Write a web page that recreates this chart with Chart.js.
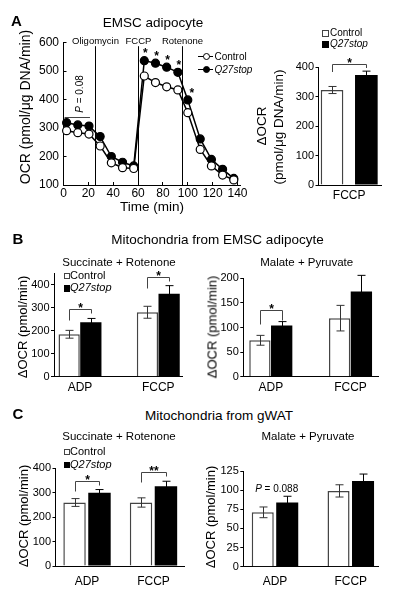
<!DOCTYPE html>
<html><head><meta charset="utf-8">
<script src="https://cdn.jsdelivr.net/npm/chart.js@4/dist/chart.umd.min.js"></script>
<style>
html,body{margin:0;padding:0;background:#fff;}
#root{position:relative;width:397px;height:594px;overflow:hidden;font-family:"Liberation Sans",Arial,Helvetica,sans-serif;color:#000;}
canvas{position:absolute;}
.t{position:absolute;white-space:nowrap;line-height:1;}
</style></head><body><div id="root"></div>
<script>
// ================= DATA =================
// Panel A – Seahorse time course (EMSC adipocyte)
const timeMin     = [2.5, 11.5, 20.5, 29.5, 38.5, 47.5, 56.5, 65, 74, 83, 92, 100, 110, 119, 128, 137];
const ocrControl  = [291, 284, 279, 237, 178, 161, 158, 483, 460, 445, 434, 354, 225, 167, 135, 118];
const ocrQ27stop  = [319, 311, 307, 270, 200, 180, 167, 537, 528, 514, 496, 399, 262, 190, 155, 123];
const ocrSig      = ['', '', '', '', '', '', '', '*', '*', '*', '*', '*', '', '', '', ''];
const injectionNames = ['Oligomycin', 'FCCP', 'Rotenone'];
const injectionTimes = [25, 60, 95];
const timeTicks = [0, 20, 40, 60, 80, 100, 120, 140];
const ocrTicks  = [100, 200, 300, 400, 500, 600];

// Panel A – ΔOCR bar
const aCats = ['FCCP'];
const aControl = [322], aControlErr = [12];
const aQ27 = [373],     aQ27Err = [13];
const aSig = ['*'];
const aTicks = [0, 100, 200, 300, 400];

// Panel B – Mitochondria from EMSC adipocyte
const bCats = ['ADP', 'FCCP'];
const bSuccControl = [185, 281], bSuccControlErr = [17, 26];
const bSuccQ27     = [237, 362], bSuccQ27Err     = [17, 35];
const bSuccSig = ['*', '*'];
const bSuccTicks = [0, 100, 200, 300, 400];
const bMalControl = [74, 119], bMalControlErr = [10, 26];
const bMalQ27     = [104, 173], bMalQ27Err    = [8, 33];
const bMalSig = ['*', ''];
const bMalTicks = [0, 50, 100, 150, 200];

// Panel C – Mitochondria from gWAT
const cCats = ['ADP', 'FCCP'];
const cSuccControl = [260, 260], cSuccControlErr = [16, 19];
const cSuccQ27     = [300, 327], cSuccQ27Err     = [13, 20];
const cSuccSig = ['*', '**'];
const cSuccTicks = [0, 100, 200, 300, 400];
const cMalControl = [71, 99], cMalControlErr = [7, 8];
const cMalQ27     = [84, 112], cMalQ27Err    = [8, 9];
const cMalSig = ['', ''];
const cMalTicks = [0, 25, 50, 75, 100, 125];

// ================= HELPERS =================
const FONT = '"Liberation Sans", Arial, Helvetica, sans-serif';
Chart.defaults.font.family = FONT;
Chart.defaults.color = '#000';
const root = document.getElementById('root');

function mkCanvas(x, y, w, h) {
  const c = document.createElement('canvas');
  c.width = w; c.height = h;
  c.style.left = x + 'px'; c.style.top = y + 'px';
  c.style.width = w + 'px'; c.style.height = h + 'px';
  root.appendChild(c);
  return c;
}
function txt(html, x, baseY, size, o = {}) {
  const d = document.createElement('div');
  d.className = 't';
  d.innerHTML = html;
  d.style.fontSize = size + 'px';
  if (o.bold) d.style.fontWeight = 'bold';
  if (o.italic) d.style.fontStyle = 'italic';
  d.style.top = (baseY - 0.8465 * size) + 'px';
  d.style.left = x + 'px';
  if (o.align === 'center') d.style.transform = 'translateX(-50%)';
  root.appendChild(d);
  return d;
}
function rtxt(html, cx, cy, size) {
  const d = document.createElement('div');
  d.className = 't';
  d.innerHTML = html;
  d.style.fontSize = size + 'px';
  d.style.left = cx + 'px'; d.style.top = cy + 'px';
  d.style.transform = 'translate(-50%,-50%) rotate(-90deg)';
  root.appendChild(d);
}
function box(x, y, w, h, css) {
  const d = document.createElement('div');
  d.style.position = 'absolute';
  d.style.left = x + 'px'; d.style.top = y + 'px';
  d.style.width = w + 'px'; d.style.height = h + 'px';
  d.style.boxSizing = 'border-box';
  Object.assign(d.style, css);
  root.appendChild(d);
}

// plugin: error bars + significance brackets for grouped bars
const barDecor = {
  id: 'barDecor',
  afterDatasetsDraw(chart, args, o) {
    const ctx = chart.ctx, y = chart.scales.y;
    ctx.save();
    chart.data.datasets.forEach((ds, d) => {
      const meta = chart.getDatasetMeta(d);
      meta.data.forEach((bar, i) => {
        const v = ds.data[i].y, e = ds.errors[i];
        const yt = y.getPixelForValue(v + e), yb = y.getPixelForValue(v - e);
        const bx = Math.round(bar.x) + 0.5;
        ctx.strokeStyle = ds.errColor; ctx.lineWidth = 1;
        ctx.beginPath();
        ctx.moveTo(bx, yt); ctx.lineTo(bx, yb);
        ctx.moveTo(bx - 4, yt); ctx.lineTo(bx + 4, yt);
        ctx.moveTo(bx - 4, yb); ctx.lineTo(bx + 4, yb);
        ctx.stroke();
      });
    });
    const d0 = chart.data.datasets[0], d1 = chart.data.datasets[1];
    const m0 = chart.getDatasetMeta(0), m1 = chart.getDatasetMeta(1);
    (o.sig || []).forEach((s, i) => {
      if (!s) return;
      const x1 = Math.round(m0.data[i].x) + 0.5, x2 = Math.round(m1.data[i].x) + 0.5;
      const t0 = y.getPixelForValue(d0.data[i].y + d0.errors[i]);
      const t1 = y.getPixelForValue(d1.data[i].y + d1.errors[i]);
      const top = Math.round(Math.min(t0, t1) - o.gap) + 0.5;
      ctx.strokeStyle = '#444'; ctx.lineWidth = 1;
      ctx.beginPath();
      ctx.moveTo(x1, top + o.leftLeg); ctx.lineTo(x1, top); ctx.lineTo(x2, top); ctx.lineTo(x2, top + o.rightLeg);
      ctx.stroke();
      ctx.fillStyle = '#000';
      ctx.font = 'bold 12px ' + FONT;
      ctx.textAlign = 'center'; ctx.textBaseline = 'alphabetic';
      ctx.fillText(s, (x1 + x2) / 2, top + 2.3);
    });
    ctx.restore();
  }
};

function barChart(cv, c) {
  const mk = (vals) => c.cats.map((cat, i) => ({ x: i, y: vals[i] }));
  return new Chart(cv, {
    type: 'bar',
    data: {
      datasets: [
        { label: 'Control', data: mk(c.ctrl), errors: c.ctrlErr, errColor: '#333',
          backgroundColor: '#fff', borderColor: '#444', borderWidth: 1.5,
          categoryPercentage: c.catPct, barPercentage: c.barPct },
        { label: 'Q27stop', data: mk(c.q27), errors: c.q27Err, errColor: '#000',
          backgroundColor: '#000', borderColor: '#000', borderWidth: 0,
          categoryPercentage: c.catPct, barPercentage: c.barPct }
      ]
    },
    options: {
      responsive: false, animation: false, devicePixelRatio: 1,
      layout: { padding: { top: c.padTop, right: c.padRight, left: 0, bottom: 0 } },
      plugins: { legend: { display: false }, tooltip: { enabled: false },
                 barDecor: { sig: c.sig, gap: c.gap, leftLeg: c.leftLeg, rightLeg: c.rightLeg } },
      scales: {
        x: {
          type: 'linear', min: c.xMin, max: c.xMax, offset: false,
          afterBuildTicks(s) { s.ticks = c.cats.map((cat, i) => ({ value: i })); },
          ticks: { callback: (v) => c.cats[v], font: { size: 12 }, padding: c.xPad, autoSkip: false, maxRotation: 0 },
          grid: { display: false, drawTicks: false, offset: false },
          border: { display: true, color: '#000', width: 1 },
          afterFit(s) { s.height = c.xH; }
        },
        y: {
          min: c.yMin, max: c.yMax,
          afterBuildTicks(s) { s.ticks = c.yTicks.map(v => ({ value: v })); },
          ticks: { font: { size: 11 }, padding: 1.5 },
          grid: { display: true, drawOnChartArea: false, drawTicks: true, tickLength: 3, color: '#000' },
          border: { display: true, color: '#000', width: 1 },
          afterFit(s) { s.width = c.yW; }
        }
      }
    },
    plugins: [barDecor]
  });
}

// ================= PANEL A: time course =================
const ocrDecor = {
  id: 'ocrDecor',
  beforeDatasetsDraw(chart) {
    const { ctx, chartArea, scales: { x } } = chart;
    ctx.save();
    ctx.strokeStyle = '#000'; ctx.lineWidth = 1;
    injectionTimes.forEach((t, k) => {
      const px = Math.round(x.getPixelForValue(t)) + 0.5;
      ctx.beginPath(); ctx.moveTo(px, chartArea.top + 3.5); ctx.lineTo(px, chartArea.bottom); ctx.stroke();
      ctx.fillStyle = '#000';
      ctx.font = '9.5px ' + FONT; ctx.textAlign = 'center'; ctx.textBaseline = 'alphabetic';
      ctx.fillText(injectionNames[k], px, 43.5);
    });
    ctx.restore();
  },
  afterDatasetsDraw(chart) {
    const { ctx } = chart;
    const mq = chart.getDatasetMeta(1);
    ctx.save();
    // baseline comparison bar
    const p0 = mq.data[0], p2 = mq.data[2];
    const by = Math.round(Math.min(p0.y, mq.data[1].y, p2.y) - 6) + 0.5;
    ctx.strokeStyle = '#444'; ctx.lineWidth = 1;
    ctx.beginPath(); ctx.moveTo(p0.x - 2, by); ctx.lineTo(p2.x + 1, by); ctx.stroke();
    // stars
    ctx.fillStyle = '#000';
    ctx.font = 'bold 12px ' + FONT; ctx.textAlign = 'center'; ctx.textBaseline = 'alphabetic';
    ocrSig.forEach((s, i) => {
      if (!s) return;
      const p = mq.data[i];
      const dx = (i === 11) ? 4 : 1;
      ctx.fillText(s, p.x + dx, p.y - 3.2);
    });
    ctx.restore();
  }
};

const cvA = mkCanvas(0, 0, 255, 215);
new Chart(cvA, {
  type: 'line',
  data: {
    datasets: [
      { label: 'Control', data: timeMin.map((t, i) => ({ x: t, y: ocrControl[i] })),
        borderColor: '#000', borderWidth: 1.5, tension: 0, clip: false,
        pointRadius: 4, pointBorderWidth: 1.2, pointBackgroundColor: '#fff', pointBorderColor: '#000' },
      { label: 'Q27stop', data: timeMin.map((t, i) => ({ x: t, y: ocrQ27stop[i] })),
        borderColor: '#000', borderWidth: 1.5, tension: 0, clip: false,
        pointRadius: 4, pointBorderWidth: 1.2, pointBackgroundColor: '#000', pointBorderColor: '#000' }
    ]
  },
  options: {
    responsive: false, animation: false, devicePixelRatio: 1,
    layout: { padding: { top: 42.7, right: 15, left: 0, bottom: 0 } },
    plugins: { legend: { display: false }, tooltip: { enabled: false } },
    scales: {
      x: {
        type: 'linear', min: 0, max: 142,
        afterBuildTicks(s) { s.ticks = timeTicks.map(v => ({ value: v })); },
        ticks: { font: { size: 12 }, padding: 4.3, maxRotation: 0, autoSkip: false },
        grid: { drawOnChartArea: false, drawTicks: true, tickLength: -3, color: '#000' },
        border: { display: true, color: '#000', width: 1 },
        afterFit(s) { s.height = 30; }
      },
      y: {
        min: 100, max: 600,
        afterBuildTicks(s) { s.ticks = ocrTicks.map(v => ({ value: v })); },
        ticks: { font: { size: 12 }, padding: 7.5 },
        grid: { drawOnChartArea: false, drawTicks: true, tickLength: -3, color: '#000' },
        border: { display: true, color: '#000', width: 1 },
        afterFit(s) { s.width = 63.5; }
      }
    }
  },
  plugins: [ocrDecor]
});

// ================= PANEL A: bar =================
barChart(mkCanvas(270, 0, 127, 215), {
  cats: aCats, ctrl: aControl, ctrlErr: aControlErr, q27: aQ27, q27Err: aQ27Err, sig: aSig,
  yMin: 0, yMax: 400, yTicks: aTicks, yW: 48.5, xH: 30, padTop: 67, padRight: 16,
  xMin: -0.491, xMax: 0.509, catPct: 1.098, barPct: 0.66, xPad: 3.3,
  gap: 7, leftLeg: 7.5, rightLeg: 3.5
});

// ================= PANEL B =================
barChart(mkCanvas(0, 262, 200, 138), {
  cats: bCats, ctrl: bSuccControl, ctrlErr: bSuccControlErr, q27: bSuccQ27, q27Err: bSuccQ27Err, sig: bSuccSig,
  yMin: 0, yMax: 450, yTicks: bSuccTicks, yW: 54, xH: 23.3, padTop: 11.5, padRight: 18,
  xMin: -0.332, xMax: 1.303, catPct: 0.554, barPct: 0.98, xPad: 4,
  gap: 9, leftLeg: 11, rightLeg: 4
});
barChart(mkCanvas(200, 262, 197, 138), {
  cats: bCats, ctrl: bMalControl, ctrlErr: bMalControlErr, q27: bMalQ27, q27Err: bMalQ27Err, sig: bMalSig,
  yMin: 0, yMax: 200, yTicks: bMalTicks, yW: 43.3, xH: 23.3, padTop: 16.3, padRight: 19,
  xMin: -0.345, xMax: 1.345, catPct: 0.546, barPct: 0.98, xPad: 4,
  gap: 12, leftLeg: 14, rightLeg: 10
});

// ================= PANEL C =================
barChart(mkCanvas(0, 440, 200, 154), {
  cats: cCats, ctrl: cSuccControl, ctrlErr: cSuccControlErr, q27: cSuccQ27, q27Err: cSuccQ27Err, sig: cSuccSig,
  yMin: 0, yMax: 400, yTicks: cSuccTicks, yW: 55.5, xH: 28, padTop: 28.3, padRight: 16,
  xMin: -0.474, xMax: 1.459, catPct: 0.75, barPct: 0.9, xPad: 8,
  gap: 9, leftLeg: 10, rightLeg: 4
});
barChart(mkCanvas(200, 440, 197, 154), {
  cats: cCats, ctrl: cMalControl, ctrlErr: cMalControlErr, q27: cMalQ27, q27Err: cMalQ27Err, sig: cMalSig,
  yMin: 0, yMax: 125, yTicks: cMalTicks, yW: 43.3, xH: 27.3, padTop: 31, padRight: 19,
  xMin: -0.418, xMax: 1.359, catPct: 0.646, barPct: 0.9, xPad: 7.5,
  gap: 9, leftLeg: 10, rightLeg: 4
});

// ================= TEXT =================
// Panel A
txt('A', 11, 26, 15, { bold: true });
txt('EMSC adipocyte', 153, 27.7, 13.5, { align: 'center' });
rtxt('OCR (pmol/μg DNA/min)', 25, 106.5, 14);
txt('Time (min)', 152, 211.5, 13.5, { align: 'center' });
// line legend
box(198.3, 56, 15, 1.4, { background: '#000' });
box(202.5, 53.2, 7, 7, { border: '1.2px solid #000', borderRadius: '50%', background: '#fff' });
txt('Control', 214.5, 60.5, 10);
box(198.3, 68.6, 15, 1.4, { background: '#000' });
box(202.5, 65.8, 7, 7, { border: '1.2px solid #000', borderRadius: '50%', background: '#000' });
txt('Q27stop', 214.5, 73, 10, { italic: true });
rtxt('<i>P</i> = 0.08', 79.5, 93.5, 10);
// A bar
rtxt('ΔOCR', 262, 126, 13.5);
rtxt('(pmol/μg DNA/min)', 279, 126.5, 13.5);
box(321.7, 29.5, 7, 7, { border: '1px solid #444', background: '#fff' });
txt('Control', 330, 36, 10);
box(321.7, 41, 7, 7, { background: '#000' });
txt('Q27stop', 330, 47.5, 10, { italic: true });

// Panel B
txt('B', 12.5, 243.5, 15, { bold: true });
txt('Mitochondria from EMSC adipocyte', 217.5, 244.7, 13.5, { align: 'center' });
txt('Succinate + Rotenone', 119, 266.7, 11.5, { align: 'center' });
txt('Malate + Pyruvate', 306.7, 266.7, 11.5, { align: 'center' });
box(63.5, 272.5, 6.5, 6.5, { border: '1px solid #444', background: '#fff' });
txt('Control', 70, 279.3, 11);
box(63.5, 285, 6.5, 6.5, { background: '#000' });
txt('Q27stop', 70, 291.7, 11, { italic: true });
rtxt('ΔOCR (pmol/min)', 21.7, 326.7, 13);
rtxt('ΔOCR (pmol/min)', 211.7, 326.7, 13);

// Panel C
txt('C', 12.5, 418.5, 15, { bold: true });
txt('Mitochondria from gWAT', 219, 420.5, 13.5, { align: 'center' });
txt('Succinate + Rotenone', 119, 441, 11.5, { align: 'center' });
txt('Malate + Pyruvate', 308, 441, 11.5, { align: 'center' });
box(63.5, 448.8, 6.5, 6.5, { border: '1px solid #444', background: '#fff' });
txt('Control', 70, 455.5, 11);
box(63.5, 461.8, 6.5, 6.5, { background: '#000' });
txt('Q27stop', 70, 468.5, 11, { italic: true });
rtxt('ΔOCR (pmol/min)', 23, 516, 13);
rtxt('ΔOCR (pmol/min)', 210, 517, 13);
txt('<i>P</i> = 0.088', 276.7, 492.5, 10, { align: 'center' });
</script></body></html>
